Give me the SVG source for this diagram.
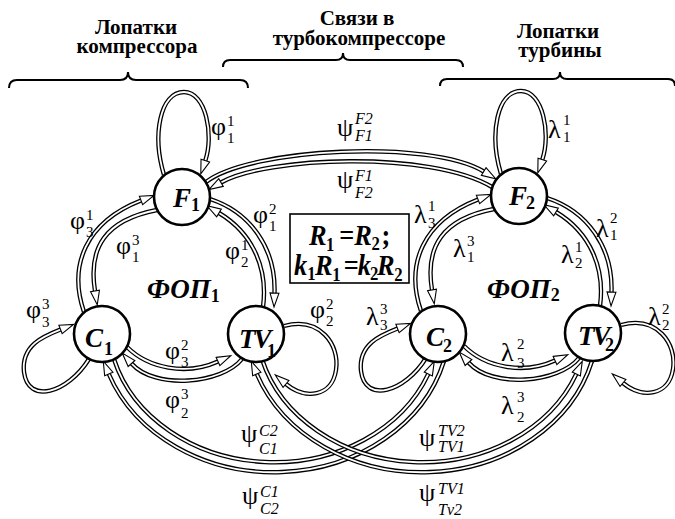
<svg xmlns="http://www.w3.org/2000/svg" width="675" height="519" viewBox="0 0 675 519" font-family="'Liberation Serif', 'Times New Roman', serif">
<style>
.b{fill:none;stroke:#000;stroke-width:4.4}
.w{fill:none;stroke:#fff;stroke-width:1.8;marker-end:url(#ah)}
.nd{fill:#fff;stroke:#000;stroke-width:2.6}
.br{fill:none;stroke:#000;stroke-width:2}
.h{font-weight:bold;font-size:21px;text-anchor:middle}
.g{font-size:26px}
.d{font-size:15px}
.i{font-size:16px;font-style:italic}
.n{font-weight:bold;font-style:italic;font-size:27px}
.ns{font-weight:bold;font-style:normal;font-size:18px}
.bx{font-weight:bold;font-style:italic;font-size:30px}
.bs{font-weight:bold;font-style:normal;font-size:19px}
</style>
<defs>
<marker id="ah" markerUnits="userSpaceOnUse" markerWidth="16" markerHeight="12" refX="0" refY="5" orient="auto" overflow="visible"><path d="M0,0.5 L14,5 L0,9.5 Z" fill="#fff" stroke="#000" stroke-width="1.1"/></marker>
<path id="ro1" d="M84,312 C68,265 86,222 141,200.5"/>
<path id="ri1" d="M157,210 C105,220 88,248 95,291"/>
<path id="ro2" d="M210,199 C250,212 276,248 274.5,293"/>
<path id="ri2" d="M263,307 C268,270 254,234 219,213"/>
<path id="bu" d="M127,347 C148,368 186,376 218,361.5"/>
<path id="bl" d="M242,359 C222,384 155,390 131.5,363.5"/>
<path id="lf" d="M164,175 C152,135 160,92 184,92 C206,92 214,135 205.3,160.6"/>
<path id="lc" d="M89,359 C68,393 28,405 24,372 C21,345 44,336 60.5,329.5"/>
<path id="lt" d="M284,326 C320,316 340,345 336,370 C332,397 305,400 286,384"/>
<path id="fu" d="M206,182 C250,148 430,139 483.7,171.5"/>
<path id="fl" d="M492,187 C430,150 265,157 221,182.5"/>
<path id="co" d="M444,361 A176,150 0 0 1 108.8,374"/>
<path id="ci" d="M114,359.3 A166,140 0 0 0 428.3,374"/>
</defs>

<g id="braces">
<path class="br" d="M9,88 Q9,80 17,80 L120,80 Q128,80 128,72 Q128,80 136,80 L240,80 Q248,80 248,88"/>
<path class="br" d="M223,67 Q223,60 230,60 L336,60 Q343,60 343,53 Q343,60 350,60 L456,60 Q463,60 463,67"/>
<path class="br" d="M440,86 Q440,79 447,79 L553,79 Q560,79 560,72 Q560,79 567,79 L668,79 Q675,79 675,86"/>
</g>

<g id="headers">
<text class="h" x="136" y="34">Лопатки</text>
<text class="h" x="137" y="53">компрессора</text>
<text class="h" x="357" y="25">Связи в</text>
<text class="h" x="359" y="45">турбокомпрессоре</text>
<text class="h" x="558" y="38">Лопатки</text>
<text class="h" x="560" y="57">турбины</text>
</g>

<g id="connectors">
<g id="ring1">
<use href="#ro1" class="b"/><use href="#ro1" class="w"/>
<use href="#ri1" class="b"/><use href="#ri1" class="w"/>
<use href="#ro2" class="b"/><use href="#ro2" class="w"/>
<use href="#ri2" class="b"/><use href="#ri2" class="w"/>
<use href="#bu" class="b"/><use href="#bu" class="w"/>
<use href="#bl" class="b"/><use href="#bl" class="w"/>
<use href="#lf" class="b"/><use href="#lf" class="w"/>
<use href="#lc" class="b"/><use href="#lc" class="w"/>
<use href="#lt" class="b"/><use href="#lt" class="w"/>
</g>
<g id="ring2" transform="translate(337,-1)">
<use href="#ro1" class="b"/><use href="#ro1" class="w"/>
<use href="#ri1" class="b"/><use href="#ri1" class="w"/>
<use href="#ro2" class="b"/><use href="#ro2" class="w"/>
<use href="#ri2" class="b"/><use href="#ri2" class="w"/>
<use href="#bu" class="b"/><use href="#bu" class="w"/>
<use href="#bl" class="b"/><use href="#bl" class="w"/>
<use href="#lf" class="b"/><use href="#lf" class="w"/>
<use href="#lc" class="b"/><use href="#lc" class="w"/>
<use href="#lt" class="b"/><use href="#lt" class="w"/>
</g>
<use href="#fu" class="b"/><use href="#fu" class="w"/>
<use href="#fl" class="b"/><use href="#fl" class="w"/>
<use href="#co" class="b"/><use href="#co" class="w"/>
<use href="#ci" class="b"/><use href="#ci" class="w"/>
<g transform="translate(148,0)">
<use href="#co" class="b"/><use href="#co" class="w"/>
<use href="#ci" class="b"/><use href="#ci" class="w"/>
</g>
</g>

<g id="F1"><circle class="nd" cx="182" cy="197" r="28"/><text class="n" x="173" y="207">F<tspan class="ns" x="191" y="211">1</tspan></text></g>
<g id="F2"><circle class="nd" cx="519" cy="196" r="28"/><text class="n" x="509" y="205">F<tspan class="ns" x="526" y="209">2</tspan></text></g>
<g id="C1"><circle class="nd" cx="102" cy="334" r="28"/><text class="n" x="85" y="347">C<tspan class="ns" x="104" y="355">1</tspan></text></g>
<g id="C2"><circle class="nd" cx="438" cy="334" r="28"/><text class="n" x="426" y="346">C<tspan class="ns" x="443" y="352">2</tspan></text></g>
<g id="TV1"><circle class="nd" cx="256" cy="334" r="28"/><text class="n" x="239" y="348" letter-spacing="-2">TV<tspan class="ns" x="267" y="357">1</tspan></text></g>
<g id="TV2"><circle class="nd" cx="593" cy="333" r="28"/><text class="n" x="578" y="345" letter-spacing="-2">TV<tspan class="ns" x="605" y="351">2</tspan></text></g>

<g id="fop">
<text class="n" x="147" y="298" font-size="26">ФОП<tspan class="ns" dy="4">1</tspan></text>
<text class="n" x="487" y="298" font-size="26">ФОП<tspan class="ns" dy="3">2</tspan></text>
</g>

<g id="box">
<rect x="290" y="214" width="119" height="69" fill="#fff" stroke="#000" stroke-width="1.6"/>
<g transform="translate(290,0) scale(0.88,1) translate(-290,0)">
<text class="bx" y="245"><tspan x="311.6">R</tspan><tspan class="bs" x="331" y="251">1</tspan><tspan x="346" y="245" font-style="normal">=</tspan><tspan x="363" y="245">R</tspan><tspan class="bs" x="382.5" y="250">2</tspan><tspan x="394" y="245" font-style="normal">;</tspan></text>
<text class="bx" y="275"><tspan x="294.5">k</tspan><tspan class="bs" x="309.5" y="280">1</tspan><tspan x="318.4" y="275">R</tspan><tspan class="bs" x="338" y="281">1</tspan><tspan x="351" y="275" font-style="normal">=</tspan><tspan x="367" y="275">k</tspan><tspan class="bs" x="381" y="280">2</tspan><tspan x="389" y="275">R</tspan><tspan class="bs" x="408.5" y="281">2</tspan></text>
</g>
</g>

<g id="labels">
<text class="g" x="211" y="135">φ</text><text class="d" x="227" y="126">1</text><text class="d" x="227" y="143">1</text>
<text class="g" x="70" y="229">φ</text><text class="d" x="86" y="220">1</text><text class="d" x="86" y="237">3</text>
<text class="g" x="116" y="254">φ</text><text class="d" x="132" y="245">3</text><text class="d" x="132" y="262">1</text>
<text class="g" x="253" y="223">φ</text><text class="d" x="269" y="214">2</text><text class="d" x="269" y="231">1</text>
<text class="g" x="225" y="259">φ</text><text class="d" x="241" y="250">1</text><text class="d" x="241" y="267">2</text>
<text class="g" x="26" y="318">φ</text><text class="d" x="42" y="309">3</text><text class="d" x="42" y="327">3</text>
<text class="g" x="165" y="359">φ</text><text class="d" x="181" y="350">2</text><text class="d" x="181" y="367">3</text>
<text class="g" x="165" y="408">φ</text><text class="d" x="181" y="399">3</text><text class="d" x="181" y="418">2</text>
<text class="g" x="310" y="318">φ</text><text class="d" x="326" y="309">2</text><text class="d" x="326" y="326">2</text>

<text class="g" x="548" y="138">λ</text><text class="d" x="563" y="125">1</text><text class="d" x="563" y="142">1</text>
<text class="g" x="414" y="223">λ</text><text class="d" x="428" y="211">1</text><text class="d" x="428" y="228">3</text>
<text class="g" x="453" y="257">λ</text><text class="d" x="467" y="246">3</text><text class="d" x="467" y="262">1</text>
<text class="g" x="596" y="237">λ</text><text class="d" x="610" y="223">2</text><text class="d" x="610" y="240">1</text>
<text class="g" x="561" y="263">λ</text><text class="d" x="575" y="252">1</text><text class="d" x="575" y="268">2</text>
<text class="g" x="366" y="325">λ</text><text class="d" x="380" y="314">3</text><text class="d" x="380" y="330">3</text>
<text class="g" x="501" y="361">λ</text><text class="d" x="517" y="349">2</text><text class="d" x="517" y="368">3</text>
<text class="g" x="501" y="414">λ</text><text class="d" x="517" y="402">3</text><text class="d" x="517" y="422">2</text>
<text class="g" x="648" y="325">λ</text><text class="d" x="662" y="314">2</text><text class="d" x="662" y="330">2</text>

<text class="g" x="337" y="136">ψ</text><text class="i" x="355" y="124">F2</text><text class="i" x="355" y="141">F1</text>
<text class="g" x="337" y="188">ψ</text><text class="i" x="355" y="181">F1</text><text class="i" x="355" y="198">F2</text>
<text class="g" x="241" y="442">ψ</text><text class="i" x="259" y="436">C2</text><text class="i" x="259" y="454">C1</text>
<text class="g" x="242" y="504">ψ</text><text class="i" x="260" y="497">C1</text><text class="i" x="260" y="514">C2</text>
<text class="g" x="419" y="446">ψ</text><text class="i" x="438" y="436">TV2</text><text class="i" x="438" y="452">TV1</text>
<text class="g" x="419" y="501">ψ</text><text class="i" x="438" y="494">TV1</text><text class="i" x="438" y="515">Tv2</text>
</g>
</svg>
